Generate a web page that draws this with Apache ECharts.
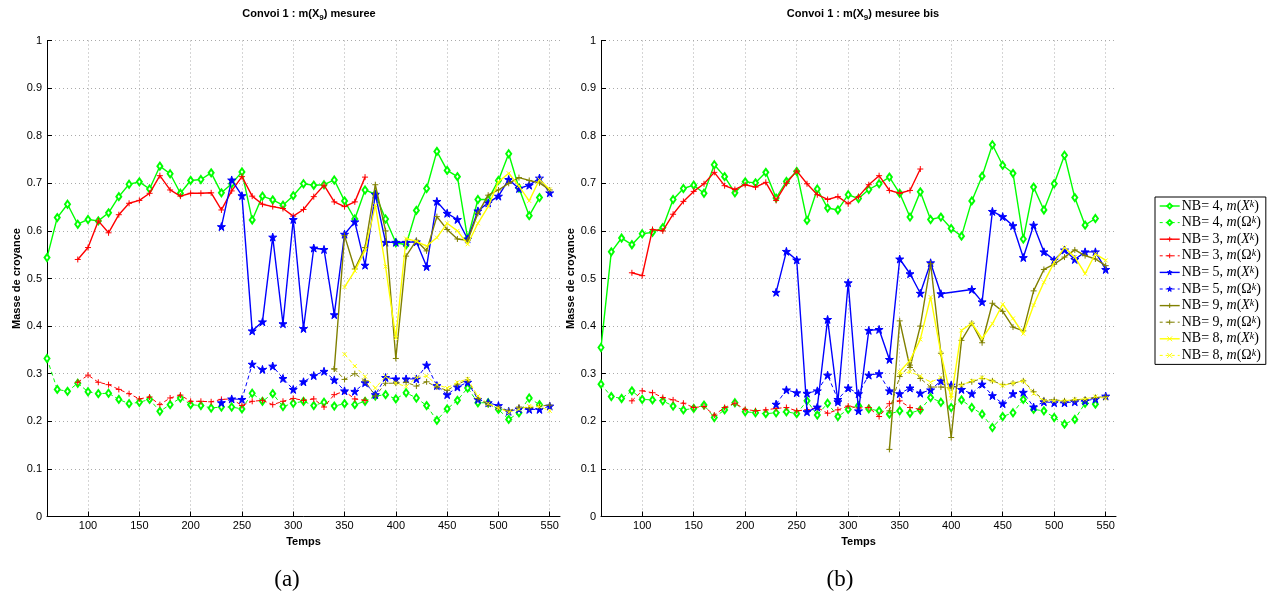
<!DOCTYPE html>
<html>
<head>
<meta charset="utf-8">
<script src="https://cdn.jsdelivr.net/npm/echarts@6/dist/echarts.min.js"></script>
<style>
html, body { margin: 0; padding: 0; background: #fff; }
#chart { width: 1279px; height: 595px; }
</style>
</head>
<body>
<div id="chart"></div>
<script>
// ---- axis ticks ----
const xTicks = [100, 150, 200, 250, 300, 350, 400, 450, 500, 550];
const STEP = 10; // sampling step of Temps

// ---- legend names (one per curve type) ----
const names = [
  'NB= 4, m(X^k)', 'NB= 4, m(Ω^k)',
  'NB= 3, m(X^k)', 'NB= 3, m(Ω^k)',
  'NB= 5, m(X^k)', 'NB= 5, m(Ω^k)',
  'NB= 9, m(X^k)', 'NB= 9, m(Ω^k)',
  'NB= 8, m(X^k)', 'NB= 8, m(Ω^k)'
];

// ---- start time of each curve, in legend order ----
const startA = [60, 60, 90, 90, 230, 230, 340, 340, 350, 350];
const startB = [60, 60, 90, 90, 230, 230, 340, 340, 350, 350];

// ---- (a) Convoi 1 : m(X9) mesuree ----
const greenX_a = [0.544, 0.628, 0.656, 0.614, 0.624, 0.621, 0.638, 0.672, 0.698, 0.703, 0.688, 0.736, 0.720, 0.679, 0.706, 0.708, 0.722, 0.680, 0.699, 0.724, 0.623, 0.673, 0.665, 0.654, 0.674, 0.699, 0.696, 0.697, 0.707, 0.663, 0.625, 0.686, 0.677, 0.625, 0.575, 0.571, 0.643, 0.689, 0.767, 0.727, 0.714, 0.584, 0.666, 0.666, 0.706, 0.762, 0.690, 0.632, 0.670];
const greenO_a = [0.332, 0.267, 0.263, 0.280, 0.262, 0.258, 0.259, 0.246, 0.237, 0.240, 0.246, 0.221, 0.235, 0.249, 0.235, 0.233, 0.228, 0.230, 0.230, 0.226, 0.259, 0.242, 0.258, 0.231, 0.238, 0.242, 0.233, 0.240, 0.232, 0.237, 0.235, 0.242, 0.253, 0.256, 0.247, 0.260, 0.249, 0.233, 0.202, 0.226, 0.244, 0.270, 0.239, 0.239, 0.225, 0.204, 0.218, 0.249, 0.235];
const redX_a = [0.540, 0.565, 0.621, 0.596, 0.634, 0.658, 0.664, 0.679, 0.716, 0.686, 0.673, 0.679, 0.679, 0.680, 0.644, 0.684, 0.714, 0.673, 0.656, 0.651, 0.647, 0.631, 0.645, 0.672, 0.696, 0.661, 0.651, 0.661, 0.713];
const redO_a = [0.282, 0.297, 0.282, 0.277, 0.267, 0.258, 0.247, 0.251, 0.235, 0.249, 0.255, 0.242, 0.242, 0.241, 0.246, 0.247, 0.233, 0.242, 0.244, 0.235, 0.242, 0.248, 0.244, 0.247, 0.230, 0.256, 0.263, 0.247, 0.244];
const blueX_a = [0.609, 0.707, 0.674, 0.390, 0.409, 0.587, 0.405, 0.624, 0.395, 0.564, 0.561, 0.424, 0.593, 0.619, 0.528, 0.677, 0.576, 0.576, 0.576, 0.577, 0.525, 0.662, 0.637, 0.624, 0.583, 0.642, 0.659, 0.673, 0.708, 0.689, 0.696, 0.711, 0.680];
const blueO_a = [0.239, 0.247, 0.246, 0.320, 0.309, 0.316, 0.290, 0.267, 0.283, 0.296, 0.305, 0.287, 0.264, 0.263, 0.281, 0.256, 0.292, 0.289, 0.289, 0.289, 0.318, 0.275, 0.256, 0.272, 0.282, 0.246, 0.239, 0.233, 0.221, 0.226, 0.225, 0.225, 0.232];
const oliveX_a = [0.310, 0.590, 0.520, 0.565, 0.697, 0.600, 0.332, 0.547, 0.580, 0.558, 0.630, 0.603, 0.583, 0.580, 0.637, 0.675, 0.686, 0.700, 0.712, 0.706, 0.701, 0.686];
const oliveO_a = [0.310, 0.288, 0.300, 0.285, 0.253, 0.280, 0.280, 0.282, 0.274, 0.283, 0.272, 0.265, 0.278, 0.287, 0.248, 0.235, 0.228, 0.222, 0.230, 0.228, 0.232, 0.234];
const yellowX_a = [0.482, 0.516, 0.559, 0.654, 0.525, 0.375, 0.584, 0.578, 0.568, 0.586, 0.616, 0.600, 0.572, 0.616, 0.651, 0.703, 0.721, 0.694, 0.663, 0.708, 0.687];
const yellowO_a = [0.341, 0.316, 0.294, 0.270, 0.294, 0.280, 0.273, 0.292, 0.295, 0.277, 0.270, 0.282, 0.289, 0.253, 0.237, 0.228, 0.219, 0.225, 0.232, 0.231, 0.222];

// ---- (b) Convoi 1 : m(X9) mesuree bis ----
const greenX_b = [0.355, 0.556, 0.585, 0.571, 0.594, 0.597, 0.607, 0.666, 0.689, 0.696, 0.679, 0.739, 0.714, 0.680, 0.703, 0.701, 0.723, 0.669, 0.704, 0.725, 0.622, 0.688, 0.648, 0.644, 0.676, 0.668, 0.687, 0.699, 0.713, 0.679, 0.629, 0.682, 0.624, 0.629, 0.605, 0.589, 0.663, 0.715, 0.781, 0.738, 0.721, 0.583, 0.692, 0.644, 0.699, 0.759, 0.670, 0.612, 0.626];
const greenO_b = [0.278, 0.252, 0.248, 0.264, 0.246, 0.245, 0.243, 0.232, 0.224, 0.227, 0.234, 0.208, 0.224, 0.239, 0.220, 0.218, 0.216, 0.218, 0.220, 0.216, 0.243, 0.213, 0.238, 0.210, 0.225, 0.233, 0.226, 0.222, 0.215, 0.222, 0.217, 0.224, 0.250, 0.240, 0.229, 0.245, 0.229, 0.215, 0.187, 0.210, 0.218, 0.246, 0.225, 0.222, 0.208, 0.194, 0.204, 0.238, 0.236];
const redX_b = [0.512, 0.506, 0.603, 0.600, 0.635, 0.662, 0.683, 0.699, 0.723, 0.695, 0.687, 0.697, 0.692, 0.702, 0.664, 0.700, 0.726, 0.699, 0.676, 0.666, 0.672, 0.657, 0.672, 0.697, 0.716, 0.685, 0.679, 0.685, 0.730];
const redO_b = [0.243, 0.264, 0.260, 0.250, 0.245, 0.238, 0.229, 0.231, 0.213, 0.229, 0.238, 0.225, 0.222, 0.224, 0.227, 0.229, 0.222, 0.224, 0.229, 0.217, 0.224, 0.232, 0.228, 0.229, 0.210, 0.237, 0.243, 0.229, 0.225];
const blueX_b = [0.471, 0.557, 0.539, 0.220, 0.230, 0.414, 0.241, 0.491, 0.222, 0.391, 0.393, 0.330, 0.541, 0.510, 0.469, 0.533, 0.468, null, null, 0.477, 0.451, 0.641, 0.630, 0.611, 0.544, 0.612, 0.556, 0.539, 0.560, 0.540, 0.556, 0.556, 0.519];
const blueO_b = [0.236, 0.266, 0.260, 0.259, 0.264, 0.297, 0.246, 0.270, 0.258, 0.297, 0.300, 0.264, 0.258, 0.270, 0.259, 0.266, 0.285, 0.276, 0.267, 0.258, 0.278, 0.254, 0.237, 0.258, 0.261, 0.230, 0.241, 0.239, 0.239, 0.241, 0.243, 0.247, 0.253];
const oliveX_b = [0.141, 0.411, 0.313, 0.400, 0.531, 0.343, 0.166, 0.370, 0.406, 0.365, 0.448, 0.431, 0.398, 0.390, 0.474, 0.519, 0.530, 0.545, 0.560, 0.548, 0.541, 0.527];
const oliveO_b = [0.222, 0.294, 0.318, 0.290, 0.272, 0.272, 0.270, 0.277, 0.283, 0.290, 0.285, 0.277, 0.280, 0.285, 0.262, 0.245, 0.245, 0.243, 0.245, 0.246, 0.250, 0.252];
const yellowX_b = [0.304, 0.328, 0.372, 0.461, 0.343, 0.248, 0.391, 0.406, 0.374, 0.405, 0.446, 0.416, 0.384, 0.444, 0.492, 0.534, 0.565, 0.545, 0.510, 0.552, 0.538];
const yellowO_b = [0.300, 0.304, 0.295, 0.282, 0.292, 0.255, 0.276, 0.285, 0.292, 0.285, 0.275, 0.280, 0.285, 0.258, 0.243, 0.243, 0.243, 0.246, 0.247, 0.252, 0.248];

const curvesA = [greenX_a, greenO_a, redX_a, redO_a, blueX_a, blueO_a, oliveX_a, oliveO_a, yellowX_a, yellowO_a];
const curvesB = [greenX_b, greenO_b, redX_b, redO_b, blueX_b, blueO_b, oliveX_b, oliveO_b, yellowX_b, yellowO_b];

// ---- marker shapes ----
const PLUS = 'path://M5,0L5,10M0,5L10,5';
const CROSS = 'path://M0,0L10,10M0,10L10,0';
const STAR = 'path://M50,0L61,35L98,35L68,57L79,91L50,70L21,91L32,57L2,35L39,35Z';

const looks = [
  { color: '#00ff00', symbol: 'emptyDiamond', size: [5, 7], dashed: false },
  { color: '#00ff00', symbol: 'emptyDiamond', size: [5, 7], dashed: true },
  { color: '#ff0000', symbol: PLUS, size: 6, dashed: false },
  { color: '#ff0000', symbol: PLUS, size: 6, dashed: true },
  { color: '#0000ff', symbol: STAR, size: 8, dashed: false },
  { color: '#0000ff', symbol: STAR, size: 8, dashed: true },
  { color: '#808000', symbol: PLUS, size: 6, dashed: false },
  { color: '#808000', symbol: PLUS, size: 6, dashed: true },
  { color: '#ffff00', symbol: CROSS, size: 4, dashed: false },
  { color: '#ffff00', symbol: CROSS, size: 4, dashed: true }
];
const DASH = [4, 3];

function toPairs(t0, vals) {
  const out = [];
  vals.forEach((v, i) => { if (v !== null) out.push([t0 + i * STEP, v]); });
  return out;
}

function fillOf(lk) {
  return lk.symbol.indexOf('path://') === 0 && lk.symbol !== STAR ? 'none' : lk.color;
}

function buildSeries(curves, starts, gridIdx) {
  return curves.map((vals, k) => {
    const lk = looks[k];
    return {
      type: 'line',
      name: names[k],
      xAxisIndex: gridIdx,
      yAxisIndex: gridIdx,
      data: toPairs(starts[k], vals),
      symbol: lk.symbol,
      symbolSize: lk.size,
      showSymbol: true,
      showAllSymbol: true,
      lineStyle: { color: lk.color, width: lk.dashed ? 1 : 1.4, type: lk.dashed ? DASH : 'solid' },
      itemStyle: { color: fillOf(lk), borderColor: lk.color, borderWidth: 1 },
      emphasis: { disabled: true },
      z: 2 + k
    };
  });
}

const tickFont = { fontFamily: 'Liberation Sans, Arial, sans-serif', fontSize: 11, color: '#000' };
const nameFont = { fontFamily: 'Liberation Sans, Arial, sans-serif', fontSize: 11, fontWeight: 'bold', color: '#000' };

function xAxisFor(gridIdx) {
  return {
    type: 'value', gridIndex: gridIdx, min: 60, max: 560,
    name: 'Temps', nameLocation: 'middle', nameGap: 19, nameTextStyle: nameFont,
    axisLine: { show: true, onZero: false, lineStyle: { color: '#000', width: 1 } },
    axisTick: { show: true, inside: true, length: 5, customValues: xTicks, lineStyle: { color: '#000' } },
    axisLabel: { customValues: xTicks, margin: 4, ...tickFont },
    splitLine: { show: true, lineStyle: { color: '#aaa', type: [1, 3], width: 1 } }
  };
}
function yAxisFor(gridIdx) {
  return {
    type: 'value', gridIndex: gridIdx, min: 0, max: 1, interval: 0.1,
    name: 'Masse de croyance', nameLocation: 'middle', nameGap: 25, nameTextStyle: nameFont,
    axisLine: { show: true, lineStyle: { color: '#000', width: 1 } },
    axisTick: { show: true, inside: true, length: 5, lineStyle: { color: '#000' } },
    axisLabel: { margin: 5, formatter: v => String(Math.round(v * 10) / 10), ...tickFont },
    splitLine: { show: true, lineStyle: { color: '#aaa', type: [1, 3], width: 1 } }
  };
}

const titleRich = {
  b: { fontFamily: 'Liberation Sans, Arial, sans-serif', fontSize: 11, fontWeight: 'bold', color: '#000', lineHeight: 16 },
  s: { fontFamily: 'Liberation Sans, Arial, sans-serif', fontSize: 8, fontWeight: 'bold', color: '#000', verticalAlign: 'bottom', lineHeight: 16 }
};
const serif = 'Liberation Serif, DejaVu Serif, serif';

// legend entries carry their own line style so dashed curves show dashed
const legendData = names.map((n, k) => ({
  name: n,
  itemStyle: { color: fillOf(looks[k]), borderColor: looks[k].color, borderWidth: 1 },
  lineStyle: { color: looks[k].color, width: looks[k].dashed ? 1 : 1.4, type: looks[k].dashed ? [3, 3] : 'solid' }
}));

const chart = echarts.init(document.getElementById('chart'), null, { renderer: 'canvas' });
chart.setOption({
  animation: false,
  backgroundColor: '#fff',
  title: [
    { text: '{b|Convoi 1 : m(X}{s|9}{b|) mesuree}', left: 304, top: 1, textAlign: 'center', textStyle: { rich: titleRich } },
    { text: '{b|Convoi 1 : m(X}{s|9}{b|) mesuree bis}', left: 858, top: 1, textAlign: 'center', textStyle: { rich: titleRich } },
    { text: '(a)', left: 282, top: 563, textAlign: 'center', textStyle: { fontFamily: serif, fontSize: 23, fontWeight: 'normal', color: '#000' } },
    { text: '(b)', left: 835, top: 563, textAlign: 'center', textStyle: { fontFamily: serif, fontSize: 23, fontWeight: 'normal', color: '#000' } }
  ],
  grid: [
    { left: 47, top: 40.5, width: 513, height: 476 },
    { left: 601, top: 40.5, width: 515, height: 476 }
  ],
  xAxis: [xAxisFor(0), xAxisFor(1)],
  yAxis: [yAxisFor(0), yAxisFor(1)],
  legend: {
    data: legendData,
    orient: 'vertical',
    left: 1155, top: 197,
    padding: [2, 5, 2, 4],
    itemGap: 2.6,
    itemWidth: 20, itemHeight: 6,
    backgroundColor: '#fff',
    borderColor: '#000', borderWidth: 1,
    selectedMode: false,
    formatter: name => {
      const m = name.match(/^NB= (\d), m\((X|Ω)\^k\)$/);
      const arg = m[2] === 'X' ? '{it|X}' : '{rm|Ω}';
      return '{rm|NB= ' + m[1] + ', }{it|m}{rm|(}' + arg + '{sup|k}{rm|)}';
    },
    textStyle: {
      padding: [0, 0, 0, -3],
      rich: {
        rm: { fontFamily: serif, fontSize: 14, color: '#000', lineHeight: 14 },
        it: { fontFamily: serif, fontSize: 14, fontStyle: 'italic', color: '#000', lineHeight: 14 },
        sup: { fontFamily: serif, fontSize: 10, fontStyle: 'italic', color: '#000', verticalAlign: 'top', lineHeight: 14 }
      }
    }
  },
  series: [...buildSeries(curvesA, startA, 0), ...buildSeries(curvesB, startB, 1)]
});
</script>
</body>
</html>
